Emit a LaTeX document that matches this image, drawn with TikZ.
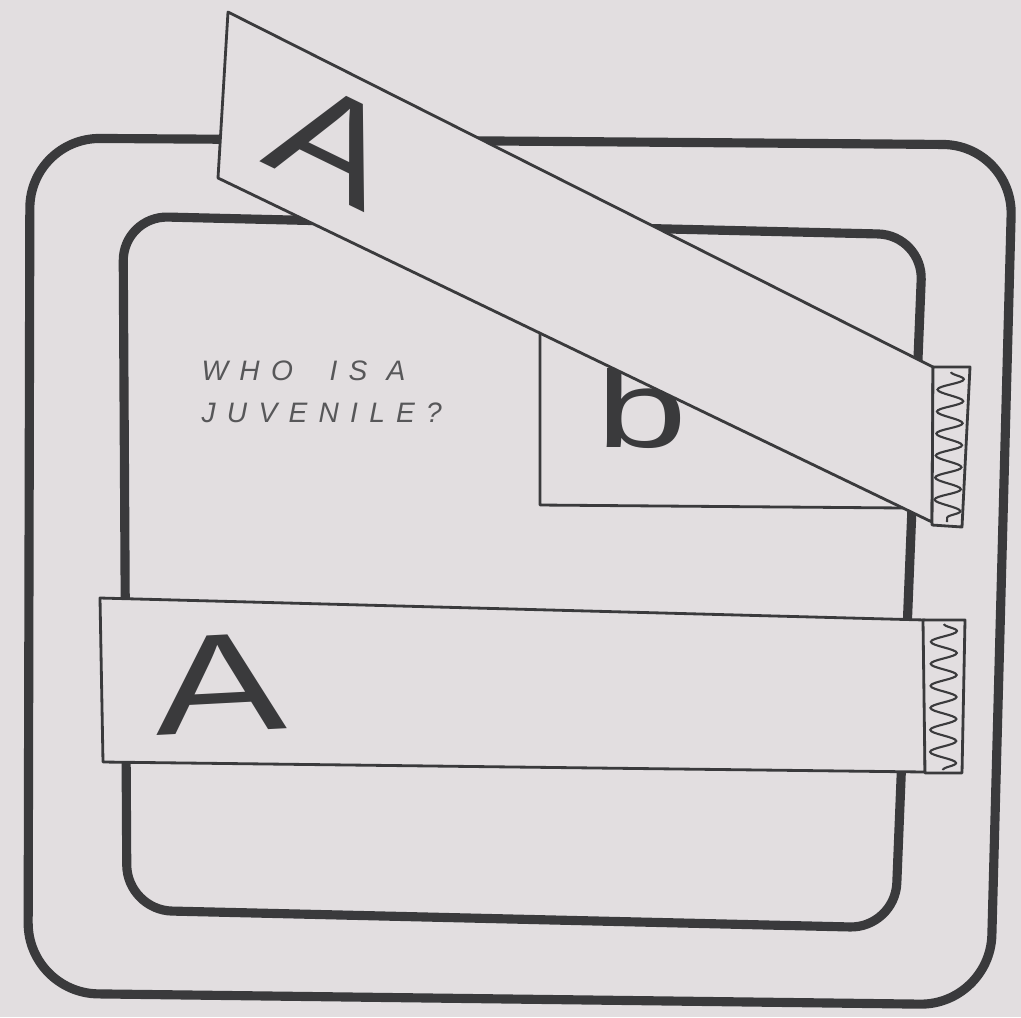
\documentclass[tikz,border=0pt]{standalone}
\usepackage{fontspec}
\setmainfont{Liberation Sans}
\newfontfamily\handfont{Liberation Sans}[LetterSpace=40]
\usetikzlibrary{decorations.pathmorphing}
\definecolor{paper}{HTML}{E2DEE0}
\definecolor{ink}{HTML}{3A3A3C}

\begin{document}
\begin{tikzpicture}[x=0.01cm, y=-0.01cm,
    frameline/.style={draw=ink, line width=2.6pt, line join=round},
    sheet/.style={draw=ink, fill=paper, line width=0.8pt, line join=round},
    scribble/.style={draw=ink, line width=0.6pt, decorate, decoration={snake, amplitude=1.3mm, segment length=2.2mm}},
    bigletter/.style={inner sep=0pt, text=ink, font=\fontsize{40}{40}\selectfont},
    note/.style={inner sep=0pt, text=ink!85, align=left, font=\handfont\itshape\fontsize{8}{11.95}\selectfont}
]
    \fill[paper] (0,0) rectangle (1021,1017);
    \useasboundingbox (0,0) rectangle (1021,1017);

    % outer and inner frames
    \draw[frameline, rounded corners=0.7cm] (500,141) -- (1013,145) -- (990,1005) -- (28,993) -- (30,138) -- cycle;
    \draw[frameline, rounded corners=0.45cm] (500,225) -- (923,235) -- (895,928) -- (127,910) -- (123,216) -- cycle;

    % sheet b, half covered
    \draw[sheet] (540,325) -- (905,360) -- (905,508) -- (540,505) -- cycle;
    \node[bigletter, font=\fontsize{31}{31}\selectfont, anchor=base west, xscale=1.5] (bLetter) at (595,447) {b};

    % slanted sheet A
    \draw[sheet] (228,12) -- (933,367) -- (932,522) -- (218,178) -- cycle;
    \node[bigletter, anchor=base, rotate=-26, xscale=1.25] (aTop) at (312,187) {A};
    \draw[sheet] (933,367) -- (970,367) -- (962,527) -- (932,525) -- cycle;
    \begin{scope}
        \clip (933,367) -- (970,367) -- (962,527) -- (932,525) -- cycle;
        \draw[scribble] (951,372) -- (947,522);
    \end{scope}

    % lower sheet A
    \draw[sheet] (100,598) -- (925,620) -- (925,772) -- (103,762) -- cycle;
    \node[bigletter, anchor=base, rotate=3, xscale=1.4] (aLow) at (222,732) {A};
    \draw[sheet] (923,620) -- (965,620) -- (962,773) -- (925,773) -- cycle;
    \begin{scope}
        \clip (923,620) -- (965,620) -- (962,773) -- (925,773) -- cycle;
        \draw[scribble] (944,624) -- (943,770);
    \end{scope}

    \node[note, anchor=north west] (question) at (201,360) {WHO\hspace{5pt} IS A\\JUVENILE?};
\end{tikzpicture}
\end{document}
